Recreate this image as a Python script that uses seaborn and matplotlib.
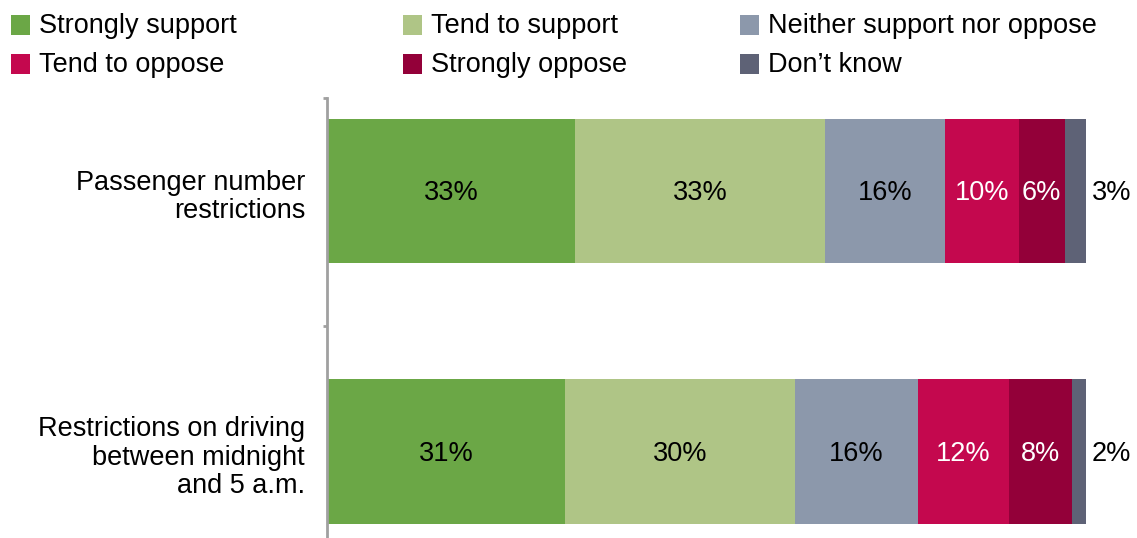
import numpy as np
import pandas as pd
import matplotlib
matplotlib.use("Agg")
import matplotlib.pyplot as plt
from matplotlib.patches import Rectangle
from matplotlib.transforms import ScaledTranslation
import seaborn as sns

# ---- data ----
categories = ["Passenger number\nrestrictions",
              "Restrictions on driving\nbetween midnight\nand 5 a.m."]
series = ["Strongly support", "Tend to support", "Neither support nor oppose",
          "Tend to oppose", "Strongly oppose", "Don\u2019t know"]
# segment shares (bars normalised to 100%)
strongly_support = [32.7, 31.4]
tend_support = [32.9, 30.3]
neither = [15.8, 16.1]
tend_oppose = [9.75, 12.1]
strongly_oppose = [6.05, 8.3]
dont_know = [2.8, 1.8]
# printed labels
label_strongly_support = ["33%", "31%"]
label_tend_support = ["33%", "30%"]
label_neither = ["16%", "16%"]
label_tend_oppose = ["10%", "12%"]
label_strongly_oppose = ["6%", "8%"]
label_dont_know = ["3%", "2%"]

colors = ["#6BA746", "#AFC586", "#8C98AB", "#C4084E", "#930039", "#5E6276"]
text_colors = ["black", "black", "black", "white", "white", "black"]

values = np.array([strongly_support, tend_support, neither,
                   tend_oppose, strongly_oppose, dont_know])
labels = [label_strongly_support, label_tend_support, label_neither,
          label_tend_oppose, label_strongly_oppose, label_dont_know]

sns.set_theme(style="white")
plt.rcParams["font.family"] = ["Liberation Sans", "DejaVu Sans"]

W, H = 1137, 538
fig = plt.figure(figsize=(W / 100, H / 100), dpi=100)
ax = fig.add_axes([327 / W, 0, 759 / W, 1 - 98 / H])

cum = np.cumsum(values, axis=0)
for i in reversed(range(len(series))):
    df = pd.DataFrame({"cat": categories, "val": cum[i]})
    sns.barplot(data=df, x="val", y="cat", orient="y", color=colors[i],
                saturation=1, width=0.553, linewidth=0, ax=ax)

ax.set_xlim(0, 100)
ax.set_ylim(1.332, -0.357)
fs = 19.5
down2 = ax.transData + ScaledTranslation(0, -2 / 100, fig.dpi_scale_trans)
# segment labels
for i in range(len(series)):
    for j in range(len(categories)):
        start = cum[i, j] - values[i, j]
        if i == len(series) - 1:
            ax.text(cum[i, j] + 0.8, j, labels[i][j], ha="left", va="center",
                    fontsize=fs, color="black", clip_on=False, transform=down2)
        else:
            ax.text(start + values[i, j] / 2, j, labels[i][j], ha="center",
                    va="center", fontsize=fs, color=text_colors[i],
                    transform=down2)

# axes styling
for s in ["top", "right", "bottom"]:
    ax.spines[s].set_visible(False)
ax.spines["left"].set_color("#A0A0A0")
ax.spines["left"].set_linewidth(2)
ax.set_xticks([])
ax.set_xlabel("")
ax.set_ylabel("")
ax.set_yticks([0, 1])
ax.set_yticklabels([])
ax.tick_params(axis="y", which="major", length=0)
ax.set_yticks([-0.357, 0.518], minor=True)
ax.tick_params(axis="y", which="minor", length=3, width=2, color="#A0A0A0",
               left=True)
# category labels
down6 = ax.get_yaxis_transform() + ScaledTranslation(-22 / 100, -6 / 100,
                                                      fig.dpi_scale_trans)
for j, cat in enumerate(categories):
    ax.text(0, j, cat, ha="right", va="center", fontsize=fs, color="black",
            linespacing=1.12, multialignment="right", transform=down6,
            clip_on=False)

# legend (three columns, two rows)
col_x = [11, 403, 740]
row_y = [25, 64]
order = [[0, 3], [1, 4], [2, 5]]
sq = 19
for c, x in enumerate(col_x):
    for r, y in enumerate(row_y):
        k = order[c][r]
        fig.patches.append(Rectangle((x / W, 1 - (y + sq / 2) / H), sq / W, sq / H,
                                     transform=fig.transFigure,
                                     facecolor=colors[k], edgecolor="none"))
        fig.text((x + 28) / W, 1 - (y + 1) / H, series[k], fontsize=fs,
                 va="center", ha="left", color="black")

fig.savefig("out.png", dpi=100, facecolor="white")
